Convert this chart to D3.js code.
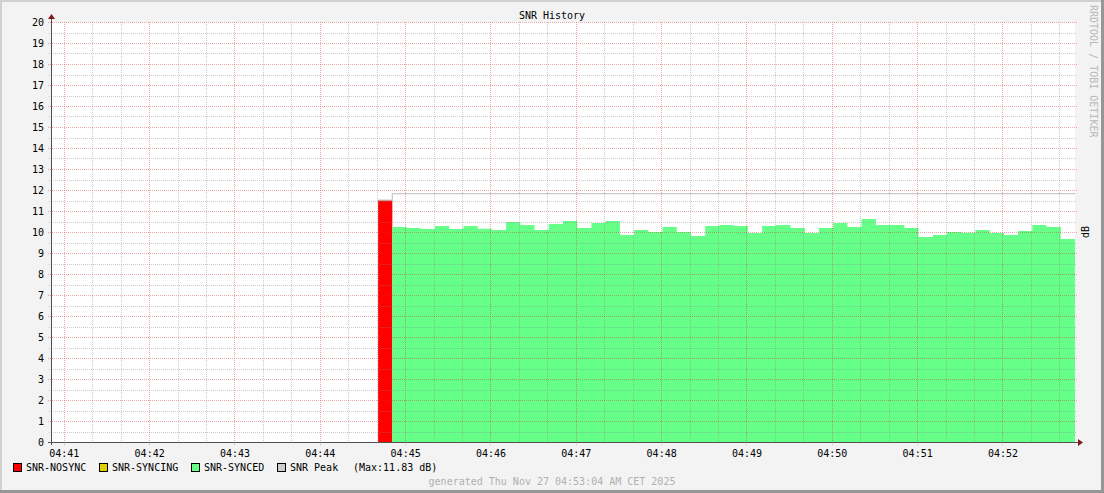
<!DOCTYPE html>
<html><head><meta charset="utf-8">
<script src="https://cdn.jsdelivr.net/npm/d3@7"></script>
<style>body{margin:0;background:#f3f3f3}svg{display:block}text{font-family:"DejaVu Sans Mono",monospace;}</style>
</head><body>
<script>
// ---- data ----
const title = "SNR History";
const timeStart = "04:40:51";
const timeEnd = "04:52:51";
const nosyncStart = "04:44:41";
const nosyncValues = [11.52];
const syncedStart = "04:44:51";
const syncedValues = [10.24,10.19,10.14,10.29,10.14,10.29,10.16,10.10,10.48,10.33,10.10,10.38,
  10.52,10.19,10.43,10.52,9.86,10.10,10.00,10.24,10.00,9.81,10.29,10.33,
  10.29,9.95,10.29,10.33,10.19,9.95,10.19,10.43,10.24,10.62,10.33,10.33,
  10.19,9.76,9.86,10.00,9.97,10.10,9.95,9.86,10.05,10.33,10.24,9.67];
const peakStart = "04:44:41";
const peakValues = [11.52,11.83,11.83,11.83,11.83,11.83,11.83,11.83,11.83,11.83,11.83,11.83,11.83,
  11.83,11.83,11.83,11.83,11.83,11.83,11.83,11.83,11.83,11.83,11.83,11.83,
  11.83,11.83,11.83,11.83,11.83,11.83,11.83,11.83,11.83,11.83,11.83,11.83,
  11.83,11.83,11.83,11.83,11.83,11.83,11.83,11.83,11.83,11.83,11.83,11.83];
const stepSeconds = 10;
const yMin = 0, yMax = 20;
const legendItems = [
  {label:"SNR-NOSYNC", color:"#ff0000"},
  {label:"SNR-SYNCING", color:"#e0d000"},
  {label:"SNR-SYNCED", color:"#66ff88"},
  {label:"SNR Peak", color:"#cccccc"}
];
const legendMax = "(Max:11.83 dB)";
const footer = "generated Thu Nov 27 04:53:04 AM CET 2025";
const watermark = "RRDTOOL / TOBI OETIKER";
const unitLabel = "dB";

// ---- layout ----
const W = 1104, H = 493;
const pL = 51, pR = 1075, pT = 22, pB = 442;
const parse = d3.utcParse("%Y-%m-%d %H:%M:%S");
const T = s => parse("2025-11-27 " + s);
const x = d3.scaleUtc().domain([T(timeStart), T(timeEnd)]).range([pL, pR]);
const y = d3.scaleLinear().domain([yMin, yMax]).range([pB, pT]);

const svg = d3.select("body").append("svg").attr("width", W).attr("height", H);
svg.append("rect").attr("width", W).attr("height", H).attr("fill", "#f3f3f3");
// frame
svg.append("rect").attr("x",0).attr("y",0).attr("width",W).attr("height",2).attr("fill","#d0d0d0");
svg.append("rect").attr("x",0).attr("y",0).attr("width",2).attr("height",H).attr("fill","#d0d0d0");
svg.append("rect").attr("x",0).attr("y",H-3).attr("width",W).attr("height",3).attr("fill","#969696");
svg.append("rect").attr("x",W-3).attr("y",0).attr("width",3).attr("height",H).attr("fill","#969696");
// canvas
svg.append("rect").attr("x",pL).attr("y",pT).attr("width",pR-pL).attr("height",pB-pT).attr("fill","#ffffff");

function series(startStr, vals) {
  const t0 = T(startStr);
  const pts = vals.map((v,i) => ({t: new Date(+t0 + i*stepSeconds*1000), v}));
  pts.push({t: new Date(+t0 + vals.length*stepSeconds*1000), v: vals[vals.length-1]});
  return pts;
}
const area = d3.area().curve(d3.curveStepAfter).x(d => x(d.t)).y0(y(0)).y1(d => y(d.v));
const line = d3.line().curve(d3.curveStepAfter).x(d => x(d.t)).y(d => y(d.v));

const minorY = d3.range(yMin, yMax + 0.001, 0.5).filter(v => v % 1 !== 0);
const majorY = d3.range(yMin, yMax + 0.001, 1);
const majorX = d3.utcMinute.range(T(timeStart), T(timeEnd));
const minorX = d3.utcSecond.every(20).range(T(timeStart), T(timeEnd)).filter(t => t.getUTCSeconds() !== 0);

svg.append("path").datum(series(nosyncStart, nosyncValues)).attr("d", area).attr("fill", "#ff0000");
svg.append("path").datum(series(syncedStart, syncedValues)).attr("d", area).attr("fill", "#66ff88");
svg.append("path").datum(series(peakStart, peakValues)).attr("d", line).attr("fill","none")
  .attr("stroke","#c8c8c8").attr("stroke-width",1.2);

// grid (semi-transparent, drawn over data like rrdtool)
const g = svg.append("g").attr("shape-rendering","crispEdges");
const minorCol = "rgba(130,130,130,0.42)", majorCol = "rgba(215,40,40,0.4)";
minorY.forEach(v => g.append("line").attr("x1",pL-2).attr("x2",pR+2).attr("y1",Math.round(y(v))+0.5).attr("y2",Math.round(y(v))+0.5)
  .attr("stroke",minorCol).attr("stroke-dasharray","1,1"));
minorX.forEach(t => g.append("line").attr("x1",Math.round(x(t))+0.5).attr("x2",Math.round(x(t))+0.5).attr("y1",pT).attr("y2",pB+2)
  .attr("stroke",minorCol).attr("stroke-dasharray","1,1"));
majorY.forEach(v => g.append("line").attr("x1",pL-3).attr("x2",pR+3).attr("y1",Math.round(y(v))+0.5).attr("y2",Math.round(y(v))+0.5)
  .attr("stroke",majorCol).attr("stroke-dasharray","1,1"));
majorX.forEach(t => g.append("line").attr("x1",Math.round(x(t))+0.5).attr("x2",Math.round(x(t))+0.5).attr("y1",pT).attr("y2",pB+3)
  .attr("stroke",majorCol).attr("stroke-dasharray","1,1"));

// axes
const axisCol = "#505050", arrowCol = "#7f1a1a";
const xa = svg.append("g").attr("transform",`translate(0,${pB})`)
  .call(d3.axisBottom(x).tickValues(majorX).tickFormat(d3.utcFormat("%H:%M")).tickSize(0).tickPadding(8));
xa.select(".domain").remove();
xa.selectAll("text").attr("font-family","DejaVu Sans Mono").attr("font-size",10).attr("fill","#000");
const ya = svg.append("g").attr("transform",`translate(${pL},0)`)
  .call(d3.axisLeft(y).tickValues(majorY).tickFormat(d3.format("d")).tickSize(0).tickPadding(7));
ya.select(".domain").remove();
ya.selectAll("text").attr("font-family","DejaVu Sans Mono").attr("font-size",10).attr("fill","#000");

svg.append("line").attr("x1",pL-3).attr("x2",pR+3).attr("y1",pB+0.5).attr("y2",pB+0.5)
  .attr("stroke",axisCol).attr("shape-rendering","crispEdges");
svg.append("line").attr("x1",pL+0.5).attr("x2",pL+0.5).attr("y1",pT-5).attr("y2",pB+3)
  .attr("stroke",axisCol).attr("shape-rendering","crispEdges");
svg.append("path").attr("d",`M${pL-3},${pT-3}L${pL+0.5},${pT-8}L${pL+4},${pT-3}Z`).attr("fill",arrowCol);
svg.append("path").attr("d",`M${pR+3},${pB-3}L${pR+8},${pB+0.5}L${pR+3},${pB+4}Z`).attr("fill",arrowCol);

// title
svg.append("text").attr("x",W/2).attr("y",19).attr("text-anchor","middle").attr("font-size",10).text(title);
// watermark
svg.append("text").attr("transform","translate(1090,5) rotate(90)").attr("font-size",10).attr("fill","#b8b8b8").text(watermark);
// unit label
svg.append("text").attr("transform",`translate(1089,${(pT+pB)/2}) rotate(-90)`).attr("text-anchor","middle")
  .attr("font-size",10).attr("fill","#000").text(unitLabel);

// legend
const legendX = [13, 99, 191, 277];
const lg = svg.append("g");
legendItems.forEach((d,i) => {
  lg.append("rect").attr("x",legendX[i]+0.5).attr("y",463.5).attr("width",8).attr("height",8)
    .attr("fill",d.color).attr("stroke","#000").attr("shape-rendering","crispEdges");
  lg.append("text").attr("x",legendX[i]+13).attr("y",471).attr("font-size",10).text(d.label);
});
lg.append("text").attr("x",353).attr("y",471).attr("font-size",10).text(legendMax);
svg.append("text").attr("x",552).attr("y",485).attr("text-anchor","middle").attr("font-size",10).attr("fill","#b0b0b0").text(footer);
</script>
</body></html>
